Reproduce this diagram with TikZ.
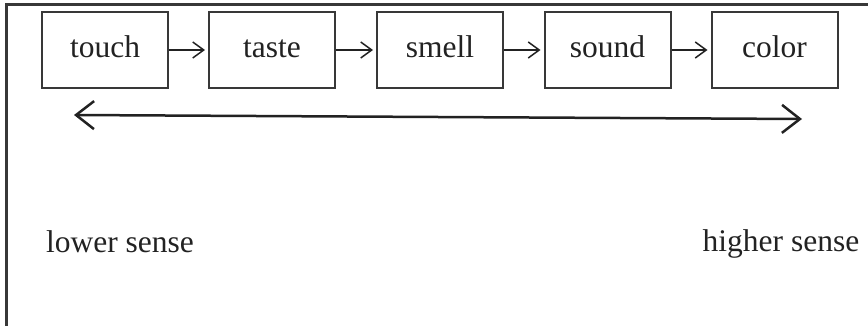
\documentclass[tikz,border=0pt]{standalone}
\usepackage{fontspec}
\setmainfont{Liberation Serif}
\usetikzlibrary{arrows.meta}
\definecolor{ink}{HTML}{222222}
\tikzset{
  sensebox/.style={draw=ink!90, line width=2pt, minimum width=126pt, minimum height=76pt, inner sep=0pt, text height=22pt, text depth=7pt, text=ink, font=\fontsize{31.5}{38}\selectfont},
  label/.style={text=ink, font=\fontsize{31.5}{38}\selectfont, inner sep=0pt, text height=22pt, text depth=7pt},
  stepar/.style={draw=ink, line width=1.5pt, -{Straight Barb[length=11pt,width=16pt,line width=1.5pt]}, shorten >=3pt},
  bigar/.style={draw=ink, line width=2.5pt, {Straight Barb[length=18pt,width=28pt,line width=2.5pt]}-{Straight Barb[length=18pt,width=28pt,line width=2.5pt]}},
  frame/.style={draw=ink!90, line width=3pt}
}
\begin{document}
\begin{tikzpicture}[x=1pt,y=-1pt]
\useasboundingbox (0,0) rectangle (868,326);
\coordinate (ftr) at (868,5);
\coordinate (ftl) at (6,5);
\coordinate (fbl) at (6,326);
\draw[frame] (ftr) -- (ftl) -- (fbl);
\node[sensebox] (touch) at (105,50) {touch};
\node[sensebox] (taste) at (272,50) {taste};
\node[sensebox] (smell) at (440,50) {smell};
\node[sensebox] (sound) at (607.5,50) {sound};
\node[sensebox] (color) at (774.5,50) {color};
\draw[stepar] (touch) -- (taste);
\draw[stepar] (taste) -- (smell);
\draw[stepar] (smell) -- (sound);
\draw[stepar] (sound) -- (color);
\coordinate (la) at (74,115);
\coordinate (ra) at (802,119);
\draw[bigar] (la) -- (ra);
\node[label] (lower) at (120,245) {lower sense};
\node[label] (higher) at (781,244) {higher sense};
\end{tikzpicture}
\end{document}
